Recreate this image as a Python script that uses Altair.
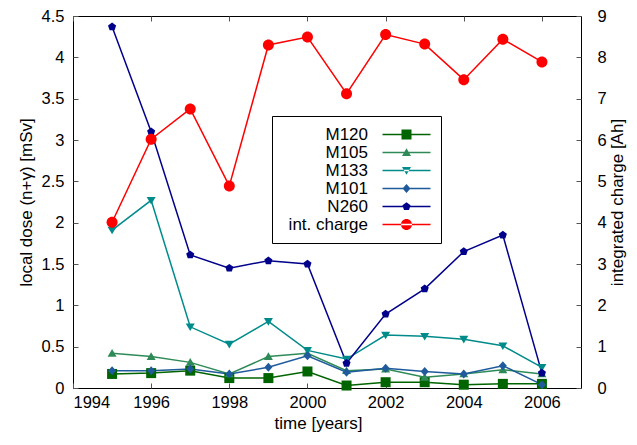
import altair as alt
import pandas as pd

# ---- data ----
years = [1995, 1996, 1997, 1998, 1999, 2000, 2001, 2002, 2003, 2004, 2005, 2006]
m120 = [0.17, 0.18, 0.21, 0.12, 0.12, 0.20, 0.03, 0.07, 0.07, 0.04, 0.05, 0.05]
m105 = [0.42, 0.38, 0.31, 0.17, 0.38, 0.42, 0.21, 0.23, 0.13, 0.17, 0.22, 0.17]
m133 = [1.91, 2.27, 0.74, 0.53, 0.805, 0.455, 0.35, 0.64, 0.625, 0.59, 0.51, 0.25]
m101 = [0.21, 0.21, 0.23, 0.17, 0.25, 0.39, 0.19, 0.24, 0.20, 0.17, 0.27, 0.04]
n260 = [4.37, 3.10, 1.61, 1.45, 1.54, 1.50, 0.30, 0.895, 1.20, 1.65, 1.85, 0.18]
int_charge = [4.01, 6.02, 6.75, 4.89, 8.30, 8.49, 7.12, 8.55, 8.32, 7.46, 8.44, 7.89]

series_names = ["M120", "M105", "M133", "M101", "N260", "int. charge"]
colors = ["#006400", "#2e8b57", "#008b8b", "#1e5a9c", "#00008b", "#ff0000"]

x_ticks = [1994, 1996, 1998, 2000, 2002, 2004, 2006]
y_left_ticks = [0, 0.5, 1, 1.5, 2, 2.5, 3, 3.5, 4, 4.5]
y_right_ticks = [0, 1, 2, 3, 4, 5, 6, 7, 8, 9]

# marker shapes (unit paths, scaled by symbol size)
marker_paths = [
    "M-1,-1H1V1H-1Z",                                   # square
    "M0,-0.85L0.9,0.68L-0.9,0.68Z",                     # triangle up
    "M0,0.85L0.9,-0.68L-0.9,-0.68Z",                    # triangle down
    "M0,-0.9L0.8,0L0,0.9L-0.8,0Z",                      # diamond
    "M0,-0.85L0.808,-0.263L0.5,0.688L-0.5,0.688L-0.808,-0.263Z",  # pentagon
    "M-1.1,0A1.1,1.1,0,1,0,1.1,0A1.1,1.1,0,1,0,-1.1,0Z",          # circle
]
legend_line = "M-4.8,-0.16H4.8V0.16H-4.8Z"
legend_paths = [legend_line + p for p in marker_paths]

dose_series = {"M120": m120, "M105": m105, "M133": m133, "M101": m101, "N260": n260}
rows = []
for name, vals in dose_series.items():
    for yr, v in zip(years, vals):
        rows.append({"year": yr, "value": v, "series": name})
dose_df = pd.DataFrame(rows)
charge_df = pd.DataFrame({"year": years, "value": int_charge, "series": "int. charge"})
legend_df = pd.DataFrame({"series": series_names})

FONT = "Liberation Sans"

color_scale = alt.Scale(domain=series_names, range=colors)
shape_scale = alt.Scale(domain=series_names, range=marker_paths)
legend_shape_scale = alt.Scale(domain=series_names, range=legend_paths)
x_scale = alt.Scale(domain=[1994, 2007], nice=False, zero=False)

x_bottom = alt.X(
    "year:Q", scale=x_scale,
    axis=alt.Axis(orient="bottom", values=x_ticks, format="d", title="time [years]",
                  offset=-5, tickSize=5, labelPadding=6, titlePadding=5, titleX=245),
)
x_top = alt.X(
    "year:Q", scale=x_scale,
    axis=alt.Axis(orient="top", values=x_ticks, labels=False, title=None,
                  offset=-5, tickSize=5),
)
y_left = alt.Y(
    "value:Q", scale=alt.Scale(domain=[0, 4.5], nice=False),
    axis=alt.Axis(orient="left", values=y_left_ticks, format=".1~f",
                  title="local dose (n+\u03b3) [mSv]", offset=-5, tickSize=5,
                  labelPadding=9, titlePadding=6),
)
y_right = alt.Y(
    "value:Q", scale=alt.Scale(domain=[0, 9], nice=False),
    axis=alt.Axis(orient="right", values=y_right_ticks, format="d",
                  title="integrated charge [Ah]", offset=-5, tickSize=5,
                  labelPadding=16, titlePadding=3, titleAngle=270,
                  titleBaseline="top"),
)

no_legend_color = alt.Color("series:N", scale=color_scale, legend=None)

left_lines = alt.Chart(dose_df).mark_line(strokeWidth=1.5).encode(
    x=x_bottom, y=y_left, color=no_legend_color)
left_points = alt.Chart(dose_df).mark_point(filled=True, size=100, opacity=1, strokeWidth=0).encode(
    x=x_bottom, y=y_left, color=no_legend_color,
    shape=alt.Shape("series:N", scale=shape_scale, legend=None))
left = alt.layer(left_lines, left_points)

right_lines = alt.Chart(charge_df).mark_line(strokeWidth=1.5).encode(
    x=x_top, y=y_right, color=no_legend_color)
right_points = alt.Chart(charge_df).mark_point(filled=True, size=100, opacity=1, strokeWidth=0).encode(
    x=x_top, y=y_right, color=no_legend_color,
    shape=alt.Shape("series:N", scale=shape_scale, legend=None))
right = alt.layer(right_lines, right_points)

legend_kw = dict(
    orient="none", legendX=199, legendY=100, title=None,
    strokeColor="black", fillColor="white", padding=10,
    labelFont=FONT, labelFontSize=17, labelColor="black",
    labelAlign="right", labelOffset={"expr": "-47"}, symbolOffset=116,
    symbolSize=100, symbolStrokeWidth=0, rowPadding=0,
)
legend_layer = alt.Chart(legend_df).mark_point(filled=True, size=100, opacity=1, strokeWidth=0).encode(
    color=alt.Color("series:N", scale=color_scale, legend=alt.Legend(**legend_kw)),
    shape=alt.Shape("series:N", scale=legend_shape_scale, legend=alt.Legend(**legend_kw)),
).transform_filter("false")

chart = alt.layer(left, right, legend_layer).resolve_scale(
    y="independent", shape="independent", color="independent"
).resolve_axis(x="independent").properties(
    width=508, height=372,
    autosize=alt.AutoSizeParams(type="none"),
    padding={"left": 65, "top": 8, "right": 48, "bottom": 49},
).configure_view(
    stroke="black", strokeWidth=1
).configure_axis(
    labelFont=FONT, labelFontSize=16.5, labelColor="black",
    titleFont=FONT, titleFontSize=17, titleFontWeight="normal", titleColor="black",
    tickColor="#555555", tickWidth=1, domain=False, grid=False,
)

chart.save("out.html", embed_options={"renderer": "svg", "actions": False})
